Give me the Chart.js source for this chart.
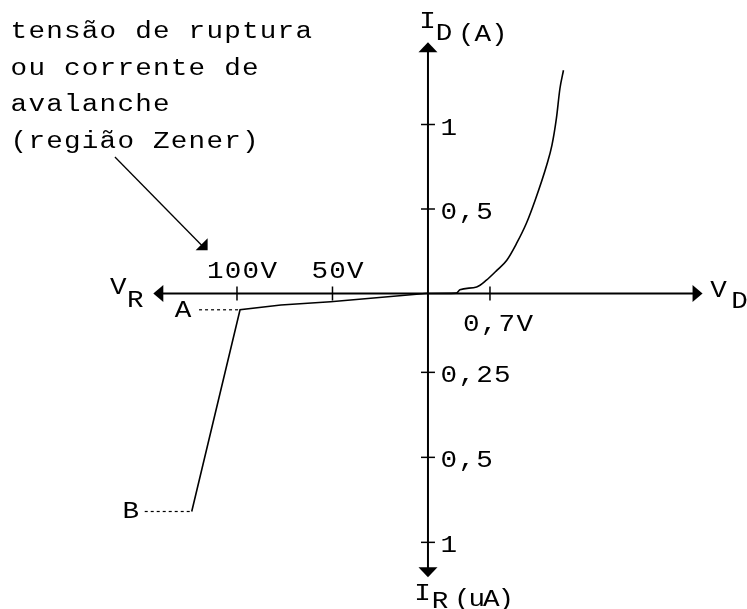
<!DOCTYPE html>
<html><head><meta charset="utf-8">
<script src="https://cdn.jsdelivr.net/npm/chart.js@4.4.0/dist/chart.umd.min.js"></script>
<style>html,body{margin:0;padding:0;background:#fff}#wrap{width:747px;height:609px;position:relative}</style>
</head><body><div id="wrap"><canvas id="c"></canvas></div>
<script>
// ---- Data ----
// Forward region: V_D in volts, I_D in amperes
const fwdVoltage = [0, 0.32, 0.36, 0.55, 0.66, 0.78, 0.89, 1.00, 1.11, 1.21, 1.34, 1.40, 1.45, 1.49, 1.53];
const fwdCurrent = [0, 0.002, 0.022, 0.039, 0.079, 0.138, 0.197, 0.296, 0.414, 0.552, 0.759, 0.878, 1.036, 1.213, 1.321];
// Reverse region: V_R in volts (negative), I_R in axis divisions (the axis is not linear in uA)
const revVoltage = [0, -51, -77, -98.4, -123.7];
const revCurrentDiv = [0, 0.1, 0.138, 0.194, 2.567];
// Ticks
const revVoltTicks = [-100, -50];
const revVoltTickLabels = ['100V', '50V'];
const fwdVoltTicks = [0.7];
const fwdVoltTickLabels = ['0,7V'];
const fwdCurrTicks = [0.5, 1];
const fwdCurrTickLabels = ['0,5', '1'];
const revCurrTicksDiv = [0.93, 1.93, 2.93];
const revCurrTickLabels = ['0,25', '0,5', '1'];
// Points A (knee) and B (index into reverse series)
const pointLabels = ['A', 'B'];
const pointIndex = [3, 4];
const noteLines = ['tensão de ruptura', 'ou corrente de', 'avalanche', '(região Zener)'];

// ---- Styling / layout ----
const FONT = '23px "Liberation Mono", "DejaVu Sans Mono", monospace';
const PITCH = 17.8;
const XSTRETCH = 1.2;
const axisEnds = { left: -143.8, right: 3.10, top: 1.487, bottom: 3.34 };
const noteArrow = { from: [-163.9, 0.808], to: [-115.9, 0.256] };

function txt(ctx, s, cx, base, pitch) {
  pitch = pitch || PITCH;
  ctx.font = FONT; ctx.textAlign = 'center'; ctx.textBaseline = 'alphabetic'; ctx.fillStyle = '#000';
  const st = cx - pitch * s.length / 2;
  for (let i = 0; i < s.length; i++) {
    ctx.save();
    ctx.translate(st + pitch * (i + 0.5), base);
    ctx.scale(XSTRETCH, 1);
    ctx.fillText(s[i], 0, 0);
    ctx.restore();
  }
}
function txtL(ctx, s, left, base, pitch) {
  pitch = pitch || PITCH;
  txt(ctx, s, left + pitch * s.length / 2, base, pitch);
}
function tri(ctx, pts) {
  ctx.beginPath(); ctx.moveTo(pts[0][0], pts[0][1]);
  for (let i = 1; i < pts.length; i++) ctx.lineTo(pts[i][0], pts[i][1]);
  ctx.closePath(); ctx.fill();
}

const axesPlugin = {
  id: 'axes',
  beforeDatasetsDraw(chart) {
    const ctx = chart.ctx, s = chart.scales;
    const ox = s.xF.getPixelForValue(0), oy = s.yF.getPixelForValue(0);
    const L = s.xR.getPixelForValue(axisEnds.left), R = s.xF.getPixelForValue(axisEnds.right);
    const T = s.yF.getPixelForValue(axisEnds.top), B = s.yR.getPixelForValue(axisEnds.bottom);
    ctx.save();
    ctx.strokeStyle = '#000'; ctx.fillStyle = '#000'; ctx.lineWidth = 2;
    ctx.beginPath(); ctx.moveTo(L + 8, oy); ctx.lineTo(R - 8, oy); ctx.stroke();
    ctx.beginPath(); ctx.moveTo(ox, T + 8); ctx.lineTo(ox, B - 8); ctx.stroke();
    tri(ctx, [[R, oy], [R - 10, oy - 8.5], [R - 10, oy + 8.5]]);
    tri(ctx, [[L, oy], [L + 10, oy - 8.5], [L + 10, oy + 8.5]]);
    tri(ctx, [[ox, T], [ox - 9.5, T + 10], [ox + 9.5, T + 10]]);
    tri(ctx, [[ox, B], [ox - 9.5, B - 10], [ox + 9.5, B - 10]]);
    ctx.lineWidth = 1.5;
    revVoltTicks.forEach((v, i) => {
      const x = s.xR.getPixelForValue(v);
      ctx.beginPath(); ctx.moveTo(x, oy - 7); ctx.lineTo(x, oy + 7); ctx.stroke();
      txt(ctx, revVoltTickLabels[i], x + 5, oy - 15);
    });
    fwdVoltTicks.forEach((v, i) => {
      const x = s.xF.getPixelForValue(v);
      ctx.beginPath(); ctx.moveTo(x, oy - 7); ctx.lineTo(x, oy + 7); ctx.stroke();
      txt(ctx, fwdVoltTickLabels[i], x + 8, oy + 38);
    });
    fwdCurrTicks.forEach((v, i) => {
      const y = s.yF.getPixelForValue(v);
      ctx.beginPath(); ctx.moveTo(ox - 7, y); ctx.lineTo(ox + 7, y); ctx.stroke();
      txtL(ctx, fwdCurrTickLabels[i], ox + 12, y + 10);
    });
    revCurrTicksDiv.forEach((v, i) => {
      const y = s.yR.getPixelForValue(v);
      ctx.beginPath(); ctx.moveTo(ox - 7, y); ctx.lineTo(ox + 7, y); ctx.stroke();
      txtL(ctx, revCurrTickLabels[i], ox + 12, y + 10);
    });
    // axis titles
    txt(ctx, 'I', ox - 0.5, 28); txt(ctx, 'D', ox + 16, 40); txtL(ctx, '(A)', ox + 30, 41, 16.5);
    txt(ctx, 'I', ox - 5.5, 600); txt(ctx, 'R', ox + 12, 608); txtL(ctx, '(uA)', ox + 27, 606, 14.5);
    txt(ctx, 'V', L - 35, oy + 1); txt(ctx, 'R', L - 18, oy + 14);
    txt(ctx, 'V', R + 16, oy + 4); txt(ctx, 'D', R + 37, oy + 15);
    ctx.restore();
  },
  afterDatasetsDraw(chart) {
    const ctx = chart.ctx, s = chart.scales;
    ctx.save();
    ctx.strokeStyle = '#000'; ctx.fillStyle = '#000';
    // dotted leaders to A and B
    ctx.lineWidth = 1.2; ctx.setLineDash([3, 3]);
    const lead = [43, 47];
    pointIndex.forEach((k, i) => {
      const x = s.xR.getPixelForValue(revVoltage[k]), y = s.yR.getPixelForValue(revCurrentDiv[k]);
      ctx.beginPath(); ctx.moveTo(x - 2, y); ctx.lineTo(x - lead[i], y); ctx.stroke();
      txt(ctx, pointLabels[i], x - lead[i] - 14, y + 7);
    });
    ctx.setLineDash([]);
    // note text
    noteLines.forEach((l, i) => txtL(ctx, l, 10, 38 + 36.5 * i));
    // note arrow
    const fx = s.xR.getPixelForValue(noteArrow.from[0]), fy = s.yF.getPixelForValue(noteArrow.from[1]);
    const tx = s.xR.getPixelForValue(noteArrow.to[0]), ty = s.yF.getPixelForValue(noteArrow.to[1]);
    ctx.lineWidth = 1.3;
    ctx.beginPath(); ctx.moveTo(fx, fy); ctx.lineTo(tx - 4, ty - 4); ctx.stroke();
    tri(ctx, [[tx + 1, ty], [tx + 1, ty - 12], [tx - 11, ty]]);
    ctx.restore();
  }
};

const fwdData = fwdVoltage.map((v, i) => ({ x: v, y: fwdCurrent[i] }));
const revData = revVoltage.map((v, i) => ({ x: v, y: revCurrentDiv[i] }));

new Chart(document.getElementById('c'), {
  type: 'line',
  data: {
    datasets: [
      { label: 'Direta', data: fwdData, xAxisID: 'xF', yAxisID: 'yF', borderColor: '#000', borderWidth: 1.6, pointRadius: 0, cubicInterpolationMode: 'monotone', fill: false },
      { label: 'Reversa', data: revData, xAxisID: 'xR', yAxisID: 'yR', borderColor: '#000', borderWidth: 1.6, pointRadius: 0, tension: 0, fill: false }
    ]
  },
  options: {
    responsive: true, maintainAspectRatio: false, animation: false,
    layout: { padding: 0 },
    plugins: { legend: { display: false }, tooltip: { enabled: false }, title: { display: false } },
    scales: {
      xF: { type: 'linear', axis: 'x', display: false, min: -4.832, max: 3.602 },
      xR: { type: 'linear', axis: 'x', display: false, min: -224.08, max: 167.03 },
      yF: { type: 'linear', axis: 'y', display: false, min: -1.8669, max: 1.7367 },
      yR: { type: 'linear', axis: 'y', display: false, reverse: true, min: -3.4506, max: 3.7141 }
    }
  },
  plugins: [axesPlugin]
});
</script>
</body></html>
